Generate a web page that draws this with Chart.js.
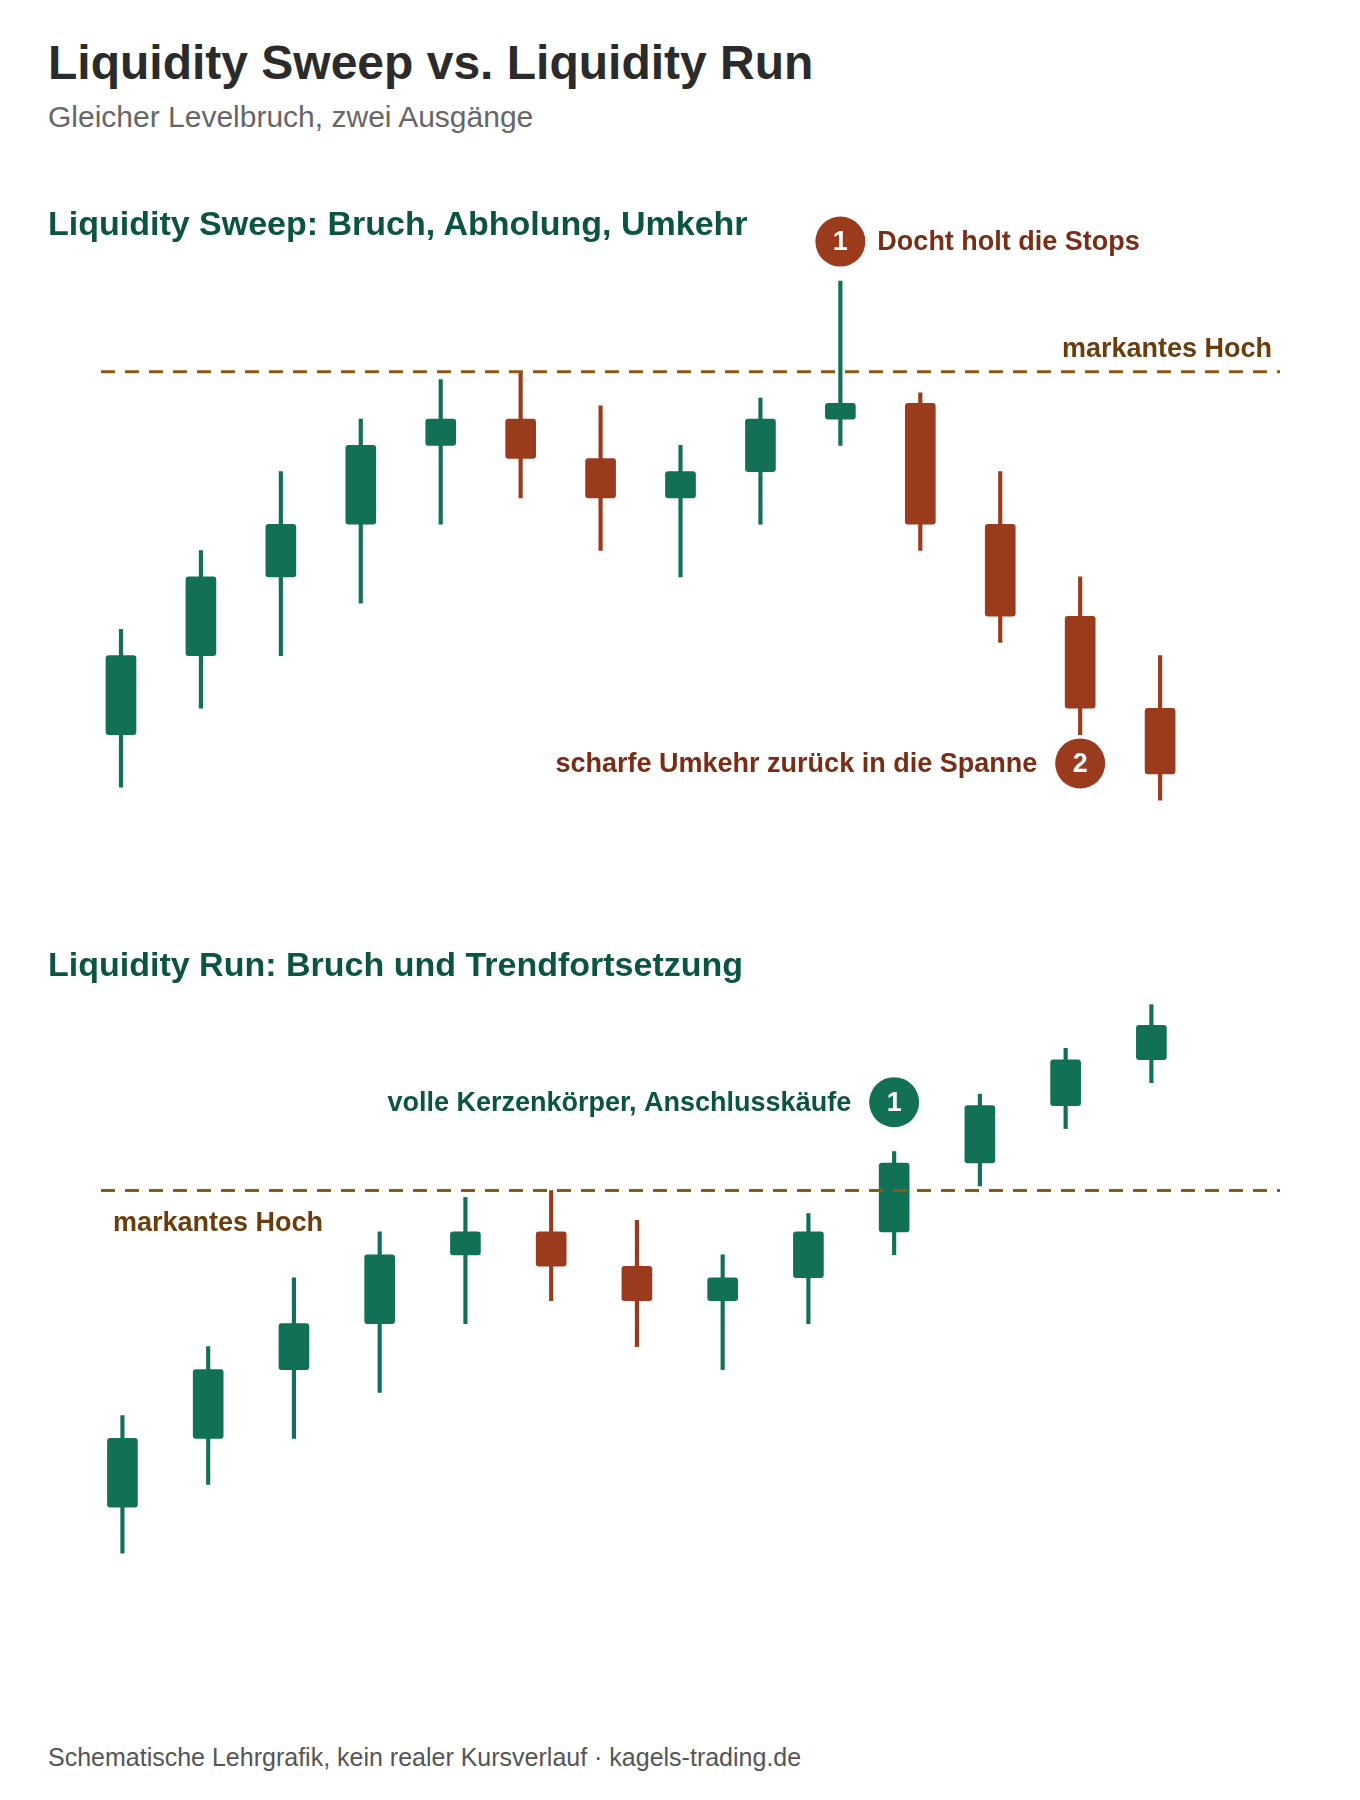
<!DOCTYPE html>
<html lang="de">
<head>
<meta charset="utf-8">
<title>Liquidity Sweep vs. Liquidity Run</title>
<script src="https://cdn.jsdelivr.net/npm/chart.js@4.4.1/dist/chart.umd.min.js"></script>
<style>
  body { margin: 0; background: #fff; font-family: "Liberation Sans", Arial, Helvetica, sans-serif; }
  #page { position: relative; width: 1360px; height: 1800px; overflow: hidden; background: #fff; }
  .txt { position: absolute; left: 48px; line-height: 1; white-space: nowrap; z-index: 2; }
  canvas { position: absolute; left: 0; z-index: 1; }
</style>
</head>
<body>
<div id="page">
  <div class="txt" style="top:39px; font-size:48px; font-weight:bold; color:#2b2b2b;">Liquidity Sweep vs. Liquidity Run</div>
  <div class="txt" style="top:102px; font-size:30px; color:#666;">Gleicher Levelbruch, zwei Ausgänge</div>
  <div class="txt" style="top:206px; font-size:34px; font-weight:bold; color:#0b5444;">Liquidity Sweep: Bruch, Abholung, Umkehr</div>
  <div class="txt" style="top:947px; font-size:34px; font-weight:bold; color:#0b5444;">Liquidity Run: Bruch und Trendfortsetzung</div>
  <div class="txt" style="top:1745px; font-size:25px; color:#555;">Schematische Lehrgrafik, kein realer Kursverlauf · kagels-trading.de</div>

  <canvas id="sweepChart" width="1360" height="723" style="top:143px;"></canvas>
  <canvas id="runChart" width="1360" height="677" style="top:945px;"></canvas>
</div>

<script>
// Panel 1: sweep - breaks the high with a wick, then reverses
var sweepOpen  = [97, 100, 103, 105, 108, 109, 107.5, 106, 107, 109, 109.6, 105, 101.5, 98];
var sweepClose = [100, 103, 105, 108, 109, 107.5, 106, 107, 109, 109.6, 105, 101.5, 98, 95.5];
var sweepHigh  = [101, 104, 107, 109, 110.5, 110.8, 109.5, 108, 109.8, 114.25, 110, 107, 103, 100];
var sweepLow   = [95, 98, 100, 102, 105, 106, 104, 103, 105, 108, 104, 100.5, 97, 94.5];

// Panel 2: run - breaks the high and keeps going
var runOpen  = [97, 100, 103, 105, 108, 109, 107.5, 106, 107, 109, 112, 114.5, 116.5];
var runClose = [100, 103, 105, 108, 109, 107.5, 106, 107, 109, 112, 114.5, 116.5, 118];
var runHigh  = [101, 104, 107, 109, 110.5, 110.8, 109.5, 108, 109.8, 112.5, 115, 117, 118.9];
var runLow   = [95, 98, 100, 102, 105, 106, 104, 103, 105, 108, 111, 113.5, 115.5];

var levelHigh = 110.8;
var levelLabel = 'markantes Hoch';

// badges: [candle index, value, number, text, side of text]
var sweepBadges = [
    [9, 115.75, '1', 'Docht holt die Stops', 'right'],
    [12, 95.9, '2', 'scharfe Umkehr zurück in die Spanne', 'left']
];
var runBadges = [
    [9, 114.65, '1', 'volle Kerzenkörper, Anschlusskäufe', 'left']
];

var GREEN = '#117056';
var RED = '#9a3b1e';
var FONT = '"Liberation Sans", Arial, Helvetica, sans-serif';

function candleColors(opens, closes) {
    return opens.map(function (o, i) { return closes[i] >= o ? GREEN : RED; });
}

function annotations(opts) {
    return {
        id: 'notes',
        afterDatasetsDraw: function (chart) {
            var ctx = chart.ctx;
            var x = chart.scales.x, y = chart.scales.y;
            var area = chart.chartArea;
            var ly = y.getPixelForValue(levelHigh);

            ctx.save();
            // dashed level line
            ctx.strokeStyle = '#8a5a14';
            ctx.lineWidth = 3;
            ctx.setLineDash([14, 10]);
            ctx.beginPath();
            ctx.moveTo(area.left, ly);
            ctx.lineTo(area.right, ly);
            ctx.stroke();
            ctx.setLineDash([]);

            ctx.fillStyle = '#6b3d0c';
            ctx.font = 'bold 27px ' + FONT;
            ctx.textBaseline = 'alphabetic';
            if (opts.labelBelow) {
                ctx.textAlign = 'left';
                ctx.fillText(levelLabel, area.left + 12, ly + 40);
            } else {
                ctx.textAlign = 'right';
                ctx.fillText(levelLabel, area.right - 8, ly - 15);
            }

            // numbered badges
            opts.badges.forEach(function (b) {
                var cx = x.getPixelForValue(b[0]);
                var cy = y.getPixelForValue(b[1]);
                ctx.fillStyle = opts.color;
                ctx.beginPath();
                ctx.arc(cx, cy, 25, 0, Math.PI * 2);
                ctx.fill();
                ctx.fillStyle = '#fff';
                ctx.font = 'bold 27px ' + FONT;
                ctx.textAlign = 'center';
                ctx.textBaseline = 'middle';
                ctx.fillText(b[2], cx, cy + 1);

                ctx.fillStyle = opts.textColor;
                ctx.font = 'bold 27px ' + FONT;
                if (b[4] === 'right') {
                    ctx.textAlign = 'left';
                    ctx.fillText(b[3], cx + 37, cy + 1);
                } else {
                    ctx.textAlign = 'right';
                    ctx.fillText(b[3], cx - 43, cy + 1);
                }
            });
            ctx.restore();
        }
    };
}

function makePanel(id, opens, closes, highs, lows, yMin, yMax, notes) {
    var colors = candleColors(opens, closes);
    var wicks = highs.map(function (h, i) { return { x: i, y: [lows[i], h] }; });
    var bodies = opens.map(function (o, i) { return { x: i, y: [o, closes[i]] }; });

    new Chart(document.getElementById(id).getContext('2d'), {
        type: 'bar',
        data: {
            datasets: [
                {
                    label: 'Docht',
                    data: wicks,
                    backgroundColor: colors,
                    barThickness: 3.5,
                    grouped: false,
                    order: 2
                },
                {
                    label: 'Körper',
                    data: bodies,
                    backgroundColor: colors,
                    barThickness: 30,
                    borderRadius: 3,
                    borderSkipped: false,
                    grouped: false,
                    order: 1
                }
            ]
        },
        options: {
            responsive: false,
            animation: false,
            layout: { padding: { left: 101, right: 80, top: 0, bottom: 0 } },
            scales: {
                x: { type: 'linear', min: -0.25, max: opens.length + 0.5, offset: false, display: false },
                y: { min: yMin, max: yMax, display: false }
            },
            plugins: {
                legend: { display: false },
                tooltip: { enabled: false }
            }
        },
        plugins: [annotations(notes)]
    });
}

makePanel('sweepChart', sweepOpen, sweepClose, sweepHigh, sweepLow, 92, 119.5,
    { badges: sweepBadges, color: RED, textColor: '#7a2d14', labelBelow: false });
makePanel('runChart', runOpen, runClose, runHigh, runLow, 92, 121.5,
    { badges: runBadges, color: GREEN, textColor: '#0b5444', labelBelow: true });
</script>
</body>
</html>
